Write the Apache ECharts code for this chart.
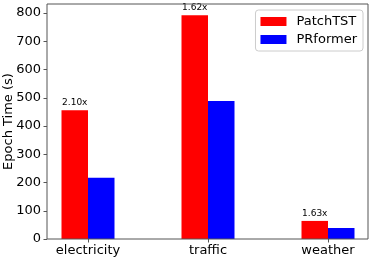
<!DOCTYPE html>
<html>
<head>
<meta charset="utf-8">
<script src="https://cdn.jsdelivr.net/npm/echarts@6/dist/echarts.min.js"></script>
<style>html,body{margin:0;padding:0;background:#fff}#c{width:374px;height:260px}</style>
</head>
<body>
<div id="c"></div>
<script>
const categories = ['electricity', 'traffic', 'weather'];
const patchTST = [456, 792, 64];
const prformer = [217, 489, 39];
const speedups = ['2.10x', '1.62x', '1.63x'];

const font = 'DejaVu Sans';
const axisColor = '#555';
const chart = echarts.init(document.getElementById('c'), null, {renderer: 'canvas'});
chart.setOption({
  animation: false,
  textStyle: {fontFamily: font},
  grid: [
    {left: 28, right: -14, top: 4, bottom: 21, containLabel: false, outerBoundsMode: 'none'},
    {left: 47, right: 6, top: 4, bottom: 21, containLabel: false, outerBoundsMode: 'none',
     show: true, borderColor: axisColor, borderWidth: 1, backgroundColor: 'transparent', z: 5}
  ],
  legend: {
    orient: 'vertical', right: 11, top: 10,
    padding: [5, 6, 5, 5],
    itemWidth: 26, itemHeight: 9, itemGap: 5,
    borderColor: '#ccc', borderWidth: 1, borderRadius: 3, backgroundColor: '#fff',
    icon: 'rect',
    textStyle: {fontFamily: font, fontSize: 13, color: '#000', padding: [0, 0, 0, 5]},
    data: ['PatchTST', 'PRformer']
  },
  xAxis: [
    {
      type: 'category', gridIndex: 0, data: categories,
      axisLine: {show: false},
      axisTick: {show: true, alignWithLabel: true, length: 3.5, lineStyle: {color: axisColor}},
      axisLabel: {fontFamily: font, fontSize: 13, color: '#000', margin: 5}
    },
    {type: 'value', gridIndex: 1, show: false, min: 0, max: 1}
  ],
  yAxis: [
    {
      type: 'value', gridIndex: 0, min: 0, max: 832, interval: 100, offset: -19,
      name: 'Epoch Time (s)', nameLocation: 'middle', nameGap: 32, nameMoveOverlap: false,
      nameTextStyle: {fontFamily: font, fontSize: 13, color: '#000'},
      splitLine: {show: false},
      axisLine: {show: false},
      axisTick: {show: true, length: 3.5, lineStyle: {color: axisColor}},
      axisLabel: {fontFamily: font, fontSize: 13, color: '#000', margin: 6, showMaxLabel: false}
    },
    {type: 'value', gridIndex: 1, show: false, min: 0, max: 1}
  ],
  series: [
    {
      name: 'PatchTST', type: 'bar', barWidth: 26.5, barGap: '0%',
      itemStyle: {color: '#ff0000'},
      data: patchTST,
      label: {show: true, position: 'top', distance: 3, fontFamily: font, fontSize: 9, color: '#000',
        formatter: p => speedups[p.dataIndex]}
    },
    {
      name: 'PRformer', type: 'bar', barWidth: 26.5, barGap: '0%',
      itemStyle: {color: '#0000ff'},
      data: prformer
    }
  ]
});
</script>
</body>
</html>
